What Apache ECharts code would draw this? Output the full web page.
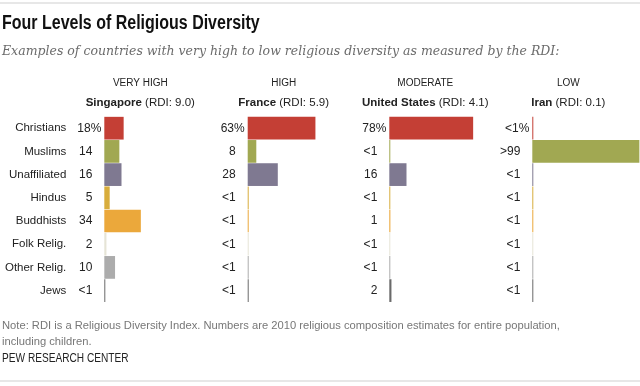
<!DOCTYPE html>
<html>
<head>
<meta charset="utf-8">
<script src="https://cdn.jsdelivr.net/npm/echarts@6/dist/echarts.min.js"></script>
<style>
html,body{margin:0;padding:0;background:#fff;}
#chart{width:640px;height:386px;}
</style>
</head>
<body>
<div id="chart"></div>
<script>
// ---- Data ----
const categories = ['Christians','Muslims','Unaffiliated','Hindus','Buddhists','Folk Relig.','Other Relig.','Jews'];
const levels = ['VERY HIGH','HIGH','MODERATE','LOW'];
const countries = ['Singapore','France','United States','Iran'];
const rdiValues = ['9.0','5.9','4.1','0.1'];

const singaporeValues = [18, 14, 16, 5, 34, 2, 10, 0.5];
const singaporeLabels = ['18%','14','16','5','34','2','10','<1'];
const franceValues = [63, 8, 28, 0.5, 0.5, 0.5, 0.5, 0.5];
const franceLabels = ['63%','8','28','<1','<1','<1','<1','<1'];
const usValues = [78, 0.5, 16, 0.5, 1, 0.5, 0.5, 2];
const usLabels = ['78%','<1','16','<1','1','<1','<1','2'];
const iranValues = [0.5, 99.6, 0.5, 0.5, 0.5, 0.5, 0.5, 0.5];
const iranLabels = ['<1%','>99','<1','<1','<1','<1','<1','<1'];

const religionColors = ['#c43f35','#a1a852','#7f7991','#d8ad3c','#eba83b','#e6e4d6','#acacac','#6a6a6a'];

const panelValues = [singaporeValues, franceValues, usValues, iranValues];
const panelLabels = [singaporeLabels, franceLabels, usLabels, iranLabels];

// ---- Layout ----
const zeroX = [104.3, 247.7, 389.3, 532.3];
const plotW = 107.5;
const plotTop = 116.6;
const plotH = 185.6;
const SANS = "'Liberation Sans', Arial, sans-serif";
const SERIF = "'DejaVu Serif', serif";

const grids = [], xAxes = [], yAxes = [], series = [];
panelValues.forEach((vals, p) => {
  grids.push({left: zeroX[p], top: plotTop, width: plotW, height: plotH, containLabel: false});
  xAxes.push({type: 'value', gridIndex: p, min: 0, max: 100, show: false});
  yAxes.push({
    type: 'category', gridIndex: p, data: categories, inverse: true,
    axisLine: {show: false}, axisTick: {show: false}, splitLine: {show: false},
    axisLabel: {show: p === 0, margin: 38, color: '#222', fontSize: 11.5, fontFamily: SANS}
  });
  series.push({
    type: 'bar', xAxisIndex: p, yAxisIndex: p,
    barCategoryGap: '2%', barMinHeight: 1,
    data: vals.map((v, i) => ({
      value: v,
      itemStyle: {color: religionColors[i]},
      label: i === 0 ? {distance: 3} : undefined
    })),
    label: {
      show: true, position: 'left', distance: 12,
      formatter: (d) => panelLabels[p][d.dataIndex],
      color: '#222', fontSize: 12, fontFamily: SANS
    },
    silent: true, animation: false
  });
});

const graphics = [
  {type: 'rect', shape: {x: 0, y: 2.5, width: 640, height: 1}, style: {fill: '#cfcfcf'}},
  {type: 'text', x: 2, y: 24, scaleX: 0.82, style: {text: 'Four Levels of Religious Diversity', fontFamily: SANS, fontWeight: 'bold', fontSize: 19.5, fill: '#111', textVerticalAlign: 'middle'}},
  {type: 'text', x: 2, y: 52, style: {text: 'Examples of countries with very high to low religious diversity as measured by the RDI:', fontFamily: SERIF, fontStyle: 'italic', fontSize: 12.5, fill: '#6b6b6b', textVerticalAlign: 'middle'}},
  {type: 'text', x: 2, y: 325.5, style: {text: 'Note: RDI is a Religious Diversity Index. Numbers are 2010 religious composition estimates for entire population,', fontFamily: SANS, fontSize: 11.2, fill: '#777', textVerticalAlign: 'middle'}},
  {type: 'text', x: 2, y: 341.5, style: {text: 'including children.', fontFamily: SANS, fontSize: 11.2, fill: '#777', textVerticalAlign: 'middle'}},
  {type: 'text', x: 2, y: 359, scaleX: 0.81, style: {text: 'PEW RESEARCH CENTER', fontFamily: SANS, fontSize: 12.5, fill: '#222', textVerticalAlign: 'middle'}},
  {type: 'rect', shape: {x: 0, y: 380.5, width: 640, height: 1}, style: {fill: '#cfcfcf'}}
];
levels.forEach((lv, p) => {
  graphics.push({type: 'text', x: zeroX[p] + 36, y: 83.5, style: {text: lv, fontFamily: SANS, fontSize: 10, fill: '#222', textAlign: 'center', textVerticalAlign: 'middle'}});
  graphics.push({type: 'text', x: zeroX[p] + 36, y: 102.5, style: {
    text: '{b|' + countries[p] + '} (RDI: ' + rdiValues[p] + ')',
    rich: {b: {fontWeight: 'bold', fontFamily: SANS, fontSize: 11.5, fill: '#222'}},
    fontFamily: SANS, fontSize: 11.5, fill: '#222', textAlign: 'center', textVerticalAlign: 'middle'}});
});

const chart = echarts.init(document.getElementById('chart'), null, {renderer: 'canvas'});
chart.setOption({
  backgroundColor: '#fff',
  animation: false,
  grid: grids, xAxis: xAxes, yAxis: yAxes, series: series,
  graphic: graphics
});
</script>
</body>
</html>
